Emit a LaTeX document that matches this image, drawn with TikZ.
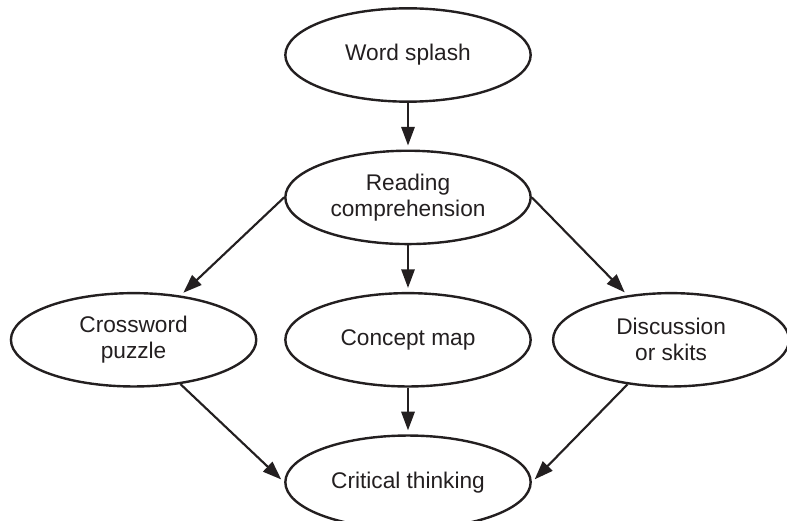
\documentclass[tikz,border=0pt]{standalone}
\usepackage{fontspec}
\setmainfont{Liberation Sans}
\usepackage{xcolor}
\usepackage{tikz}
\usetikzlibrary{arrows.meta, positioning, shapes.geometric}
\definecolor{ink}{HTML}{231F20}

\begin{document}
\begin{tikzpicture}[
      every node/.style={ellipse, draw=ink, text=ink, line width=1.8pt, minimum width=184pt, minimum height=70pt, inner sep=2pt, align=center, font=\fontsize{17}{19.5}\selectfont},
      arr/.style={draw=ink, line width=1.6pt, -{Triangle[length=14pt, width=10pt]}, shorten >=3pt}
    ]
      \useasboundingbox (0,0) rectangle (590.25pt,-390pt);

      \node (word) at (306pt,-41.25pt) {Word splash};
      \node[below=35pt of word] (read) {Reading\\comprehension};
      \node[below=35pt of read] (cmap) {Concept map};
      \node[left=20pt of cmap] (cross) {Crossword\\puzzle};
      \node[right=15pt of cmap, minimum width=177pt] (disc) {Discussion\\or skits};
      \node[below=35pt of cmap] (crit) {Critical thinking};

      \draw[arr] (word) -- (read);
      \draw[arr] (read) -- (cmap);
      \draw[arr] (read.west) -- (cross);
      \draw[arr] (read.east) -- (disc);
      \draw[arr] (cmap) -- (crit);
      \draw[arr] (cross) -- (crit.west);
      \draw[arr] (disc) -- (crit.east);
    \end{tikzpicture}
\end{document}
